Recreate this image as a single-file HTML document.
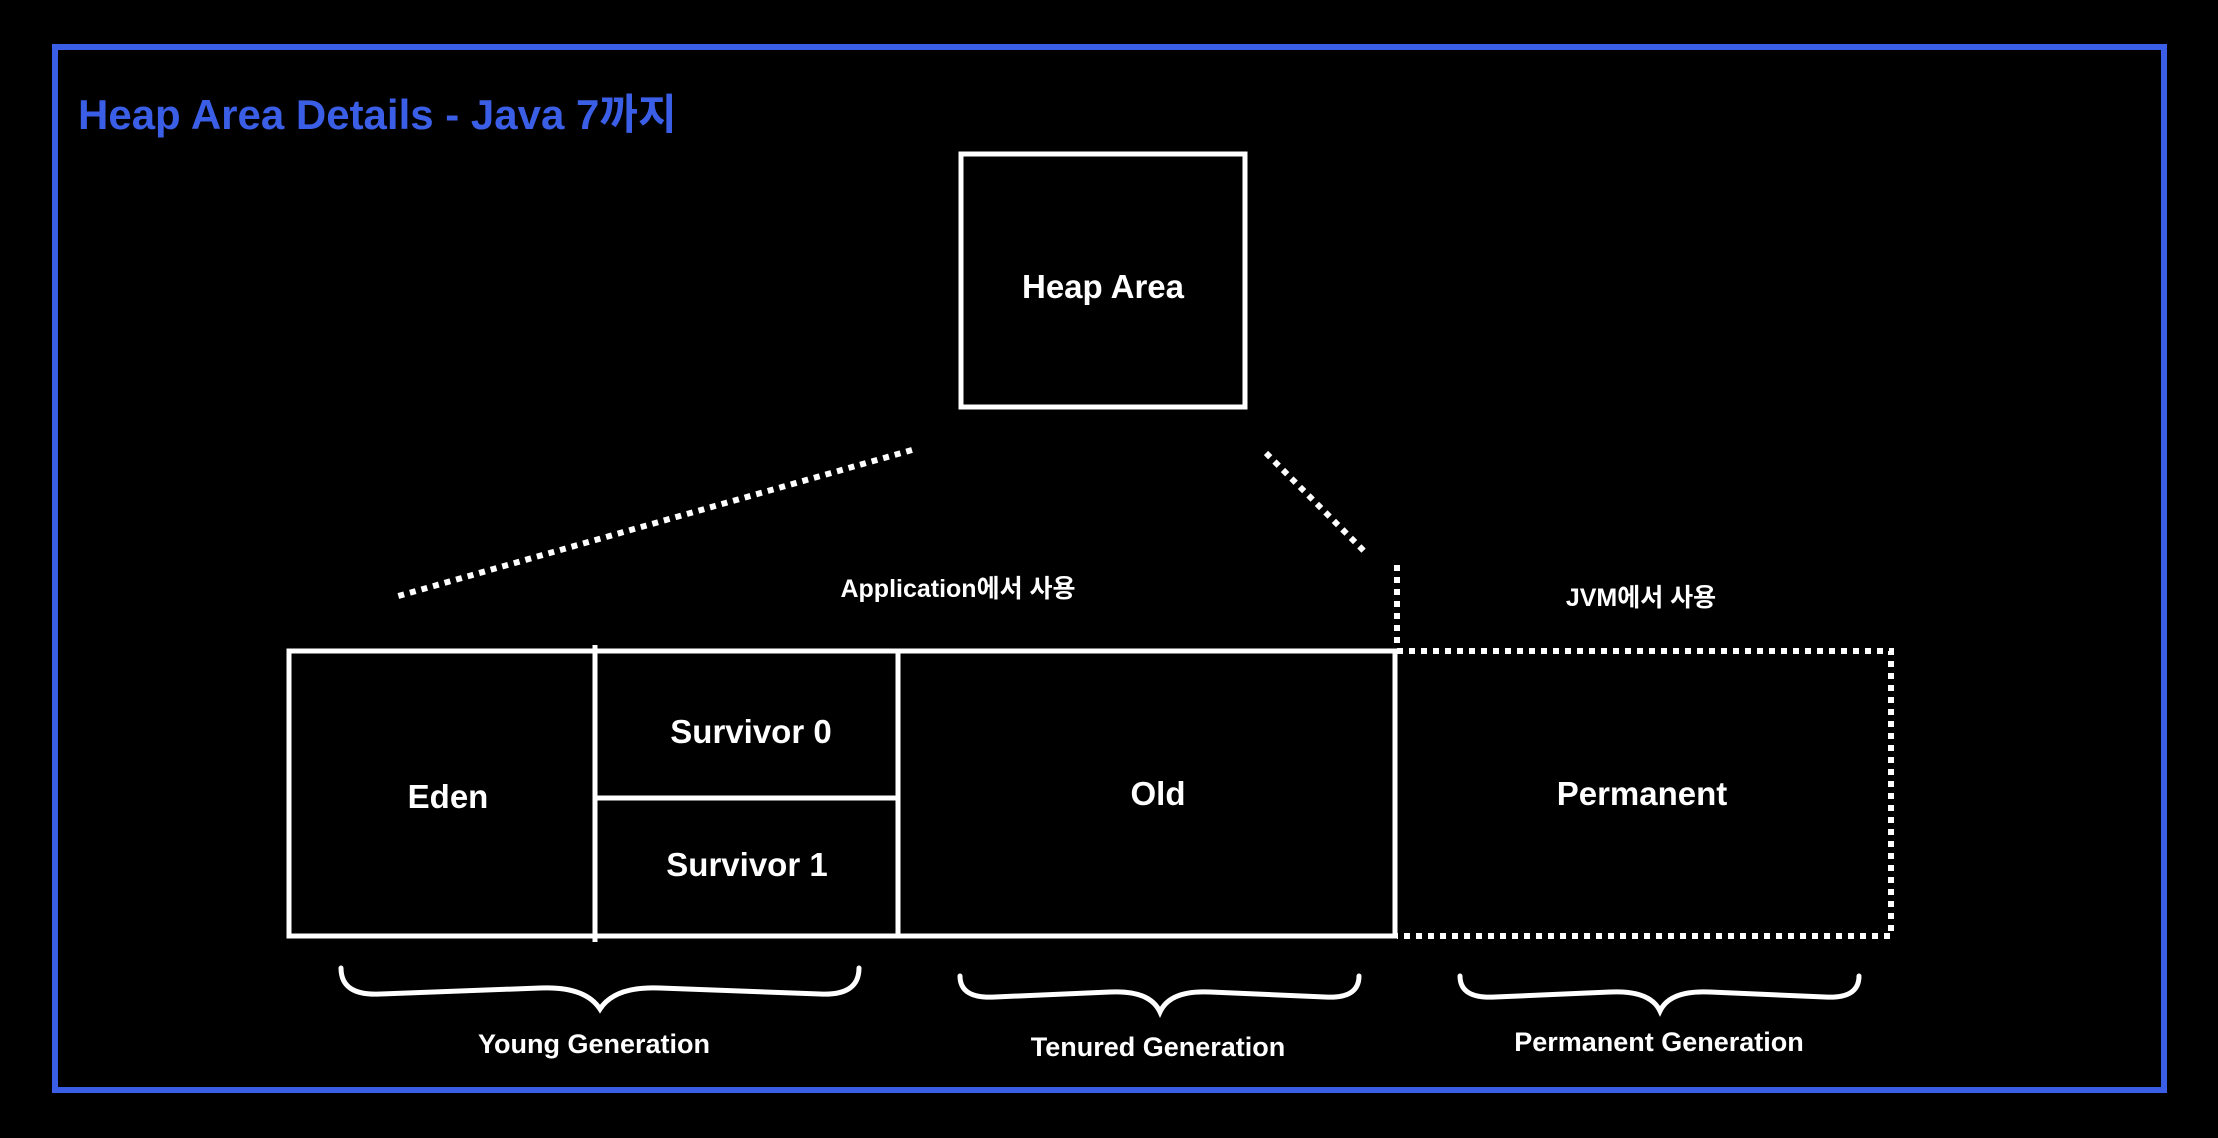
<!DOCTYPE html>
<html><head><meta charset="utf-8"><style>
html,body{margin:0;padding:0;background:#000;}
svg{display:block}
text{font-family:"Liberation Sans","Noto Sans CJK KR",sans-serif;font-weight:bold;fill:#fff;}
</style></head><body>
<svg width="2218" height="1138" viewBox="0 0 2218 1138" xmlns="http://www.w3.org/2000/svg">
<rect width="2218" height="1138" fill="#000"/>
<rect x="55" y="47" width="2109" height="1043" fill="none" stroke="#3b5ee6" stroke-width="6"/>
<text x="78" y="129" font-size="42" style="fill:#3b5ee6">Heap Area Details - Java 7까지</text>
<rect x="961" y="154" width="284" height="253" fill="none" stroke="#fff" stroke-width="5"/>
<text x="1103" y="298" font-size="33" text-anchor="middle">Heap Area</text>
<g stroke="#fff" stroke-width="6" stroke-dasharray="6 6" fill="none">
<line x1="912" y1="450" x2="395" y2="597"/>
<line x1="1266" y1="453" x2="1365" y2="552"/>
<line x1="1397" y1="565" x2="1397" y2="650"/>
<path d="M1397 651 H1891 V936 H1397"/>
</g>
<g stroke="#fff" stroke-width="5" fill="none">
<rect x="289" y="651" width="1106" height="285"/>
<line x1="595" y1="645" x2="595" y2="942"/>
<line x1="898" y1="651" x2="898" y2="936"/>
<line x1="595" y1="798" x2="898" y2="798"/>
</g>
<text x="448" y="808" font-size="33" text-anchor="middle">Eden</text>
<text x="751" y="743" font-size="33" text-anchor="middle">Survivor 0</text>
<text x="747" y="876" font-size="33" text-anchor="middle">Survivor 1</text>
<text x="1158" y="805" font-size="33" text-anchor="middle">Old</text>
<text x="1642" y="805" font-size="33" text-anchor="middle">Permanent</text>
<text x="958" y="597" font-size="25" text-anchor="middle">Application에서 사용</text>
<text x="1641" y="606" font-size="25" text-anchor="middle">JVM에서 사용</text>
<g stroke="#fff" stroke-width="5" fill="none" stroke-linecap="round">
<path d="M341 968 Q341 996 380 994 L540 988 Q585 986 600 1009 Q615 986 660 988 L820 994 Q859 996 859 968"/>
<path d="M960 976 Q960 999 995 997 L1110 992 Q1150 990 1160 1012 Q1170 990 1210 992 L1325 997 Q1359 999 1359 976"/>
<path d="M1460 976 Q1460 999 1495 997 L1610 992 Q1650 990 1660 1011 Q1670 990 1710 992 L1825 997 Q1859 999 1859 976"/>
</g>
<text x="594" y="1053" font-size="27" text-anchor="middle">Young Generation</text>
<text x="1158" y="1056" font-size="27" text-anchor="middle">Tenured Generation</text>
<text x="1659" y="1051" font-size="27" text-anchor="middle">Permanent Generation</text>
</svg>
</body></html>
